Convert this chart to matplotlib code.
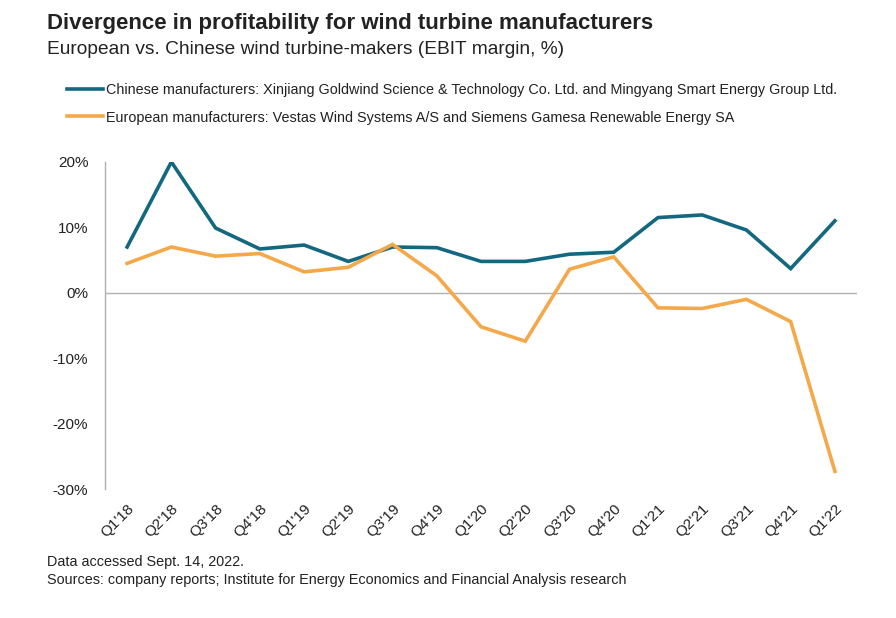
import numpy as np
import matplotlib
matplotlib.use('Agg')
import matplotlib.pyplot as plt
from matplotlib.ticker import FuncFormatter

# EBIT margin (%)
quarters = ["Q1'18", "Q2'18", "Q3'18", "Q4'18", "Q1'19", "Q2'19", "Q3'19", "Q4'19",
            "Q1'20", "Q2'20", "Q3'20", "Q4'20", "Q1'21", "Q2'21", "Q3'21", "Q4'21", "Q1'22"]
chinese = [7.0, 20.0, 9.9, 6.7, 7.3, 4.8, 7.0, 6.9, 4.8, 4.8, 5.9, 6.2, 11.5, 11.9, 9.6, 3.7, 11.0]
european = [4.5, 7.0, 5.6, 6.0, 3.2, 3.9, 7.4, 2.6, -5.2, -7.4, 3.6, 5.5, -2.3, -2.4, -1.0, -4.4, -27.3]

chinese_label = ('Chinese manufacturers: Xinjiang Goldwind Science & Technology Co. Ltd. '
                 'and Mingyang Smart Energy Group Ltd.')
european_label = ('European manufacturers: Vestas Wind Systems A/S and Siemens Gamesa '
                  'Renewable Energy SA')

teal = '#13687F'
orange = '#F4A84A'
txt = '#222222'

plt.rcParams['font.family'] = ['Liberation Sans', 'DejaVu Sans']

fig = plt.figure(figsize=(8.96, 6.18), dpi=100)
ax = fig.add_axes([0.1172, 0.2087, 0.8393, 0.5292])

x = np.arange(len(quarters))
l1, = ax.plot(x, chinese, color=teal, lw=2.6, solid_joinstyle='miter')
l2, = ax.plot(x, european, color=orange, lw=2.6, solid_joinstyle='miter')

ax.set_xlim(-0.5, len(quarters) - 0.5)
ax.set_ylim(-30, 20)
ax.set_yticks([-30, -20, -10, 0, 10, 20])
ax.yaxis.set_major_formatter(FuncFormatter(lambda v, p: '%d%%' % v))
ax.set_xticks(x)
ax.set_xticklabels(quarters, rotation=45, ha='right', rotation_mode='anchor')
ax.tick_params(axis='both', length=0, labelsize=11, colors=txt)
ax.tick_params(axis='y', pad=12)
ax.tick_params(axis='x', pad=9)

for s in ['top', 'right', 'bottom']:
    ax.spines[s].set_visible(False)
ax.spines['left'].set_color('#b0b0b0')
ax.spines['left'].set_linewidth(1)
ax.axhline(0, color='#b0b0b0', lw=1, zorder=0)

fig.text(0.0525, 0.962, 'Divergence in profitability for wind turbine manufacturers',
         fontsize=16, fontweight='bold', color=txt, va='center')
fig.text(0.0525, 0.920, 'European vs. Chinese wind turbine-makers (EBIT margin, %)',
         fontsize=13.8, color=txt, va='center')

fig.legend([l1, l2], [chinese_label, european_label], loc='upper left',
           bbox_to_anchor=(0.0745, 0.866), frameon=False, fontsize=10.4,
           handlelength=2.5, handletextpad=0.25, labelspacing=0.95,
           labelcolor=txt, borderaxespad=0, borderpad=0)

fig.text(0.0525, 0.091, 'Data accessed Sept. 14, 2022.', fontsize=10.4, color=txt, va='center')
fig.text(0.0525, 0.062, 'Sources: company reports; Institute for Energy Economics and Financial Analysis research',
         fontsize=10.4, color=txt, va='center')

fig.savefig('out.png', dpi=100)
